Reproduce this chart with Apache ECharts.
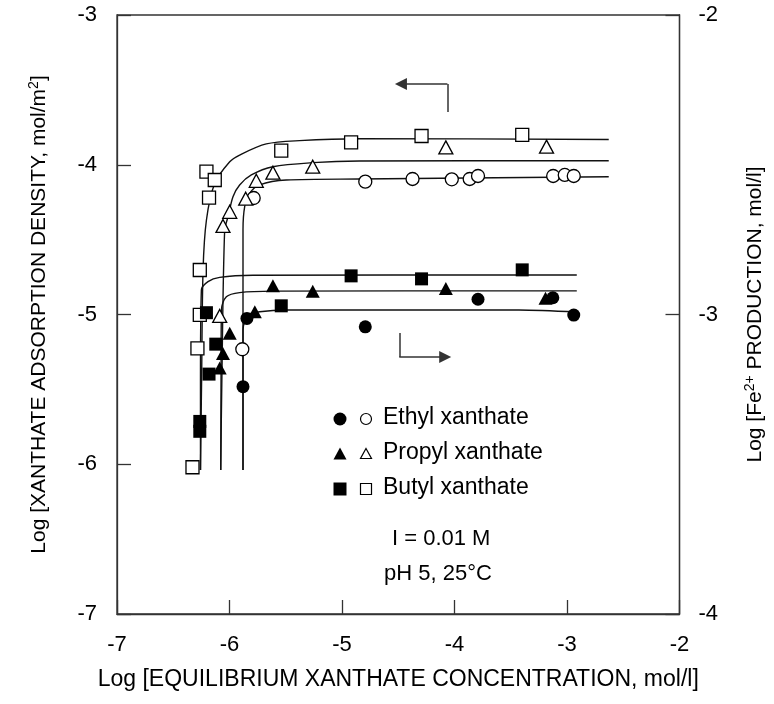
<!DOCTYPE html>
<html><head><meta charset="utf-8">
<script src="https://cdn.jsdelivr.net/npm/echarts@6/dist/echarts.min.js"></script>
<style>html,body{margin:0;padding:0;background:#fff}#c{width:774px;height:704px}</style>
</head><body><div id="c"></div>
<script>
// ---- data (x = log equilibrium xanthate conc.) ----
// open symbols: adsorption density (left axis)
const ethylAds = [[-5.886,-5.232],[-5.785,-4.222],[-4.793,-4.113],[-4.373,-4.095],[-4.024,-4.097],[-3.865,-4.095],[-3.791,-4.075],[-3.123,-4.075],[-3.020,-4.068],[-2.940,-4.075]];
const propylAds = [[-6.087,-5.010],[-6.058,-4.409],[-5.998,-4.314],[-5.856,-4.227],[-5.762,-4.107],[-5.614,-4.053],[-5.260,-4.013],[-4.077,-3.884],[-3.182,-3.879]];
const butylAds = [[-6.205,-4.046],[-6.131,-4.102],[-6.182,-4.220],[-5.540,-3.906],[-4.919,-3.850],[-4.293,-3.808],[-3.398,-3.801],[-6.264,-4.703],[-6.264,-5.003],[-6.285,-5.226],[-6.329,-6.020]];
// filled symbols: Fe2+ production (right axis)
const ethylFe = [[-5.880,-3.241],[-5.845,-3.013],[-4.793,-3.041],[-3.791,-2.949],[-3.126,-2.944],[-2.940,-3.002]];
const propylFe = [[-6.087,-3.179],[-6.058,-3.130],[-5.998,-3.063],[-5.775,-2.991],[-5.614,-2.904],[-5.260,-2.922],[-4.077,-2.913],[-3.191,-2.946]];
const butylFe = [[-6.264,-3.357],[-6.264,-3.390],[-6.182,-3.199],[-6.122,-3.099],[-6.205,-2.994],[-5.540,-2.971],[-4.919,-2.871],[-4.293,-2.881],[-3.398,-2.851]];
// fitted curves
const butylAdsCurve = [[-6.258,-6.038],[-6.248,-5.437],[-6.235,-4.703],[-6.205,-4.369],[-6.131,-4.124],[-5.998,-3.980],[-5.910,-3.935],[-5.673,-3.861],[-5.378,-3.839],[-4.846,-3.826],[-2.629,-3.831]];
const propylAdsCurve = [[-6.078,-6.038],[-6.068,-5.437],[-6.043,-4.436],[-6.013,-4.347],[-5.969,-4.213],[-5.910,-4.135],[-5.806,-4.068],[-5.614,-4.013],[-5.260,-3.986],[-4.846,-3.975],[-2.629,-3.973]];
const ethylAdsCurve = [[-5.880,-6.038],[-5.880,-4.436],[-5.865,-4.280],[-5.821,-4.191],[-5.732,-4.135],[-5.496,-4.102],[-4.846,-4.095],[-2.629,-4.080]];
const butylFeCurve = [[-6.258,-3.519],[-6.258,-3.219],[-6.250,-2.918],[-6.191,-2.890],[-6.087,-2.876],[-5.792,-2.869],[-2.913,-2.868]];
const propylFeCurve = [[-6.078,-3.519],[-6.075,-3.200],[-6.072,-2.985],[-6.028,-2.941],[-5.910,-2.927],[-5.614,-2.922],[-2.913,-2.921]];
const ethylFeCurve = [[-5.880,-3.519],[-5.880,-3.052],[-5.836,-3.002],[-5.732,-2.991],[-5.496,-2.985],[-3.427,-2.985],[-2.913,-2.992]];
// direction arrows (left-axis data units): stem + arrow shaft
const arrowLeftStem = [[-4.063,-3.648],[-4.063,-3.461]];
const arrowLeftShaft = [[-4.063,-3.461],[-4.476,-3.461]];
const arrowRightStem = [[-4.491,-5.124],[-4.491,-5.284]];
const arrowRightShaft = [[-4.491,-5.284],[-4.083,-5.284]];
const xTicks = [-7,-6,-5,-4,-3,-2];

const FONT = 'Liberation Sans, Arial, sans-serif';
const chart = echarts.init(document.getElementById('c'), null, {renderer:'canvas'});

function curve(data, yi){
  return {type:'line', data, yAxisIndex:yi, showSymbol:false, smooth:0.3, z:2,
    lineStyle:{color:'#111', width:1.4}, silent:true};
}
function pts(data, yi, symbol, filled, size){
  return {type:'scatter', data, yAxisIndex:yi, symbol, symbolSize:size, z:5,
    itemStyle:{color: filled ? '#000' : '#fff', borderColor:'#000', borderWidth: filled?0:1.3, opacity:1}};
}
function seg(coords, head){
  return {type:'lines', coordinateSystem:'cartesian2d', z:3,
    symbol: head ? ['none','triangle'] : ['none','none'], symbolSize:[12,12],
    lineStyle:{color:'#333', width:1.5, opacity:1, curveness:0},
    itemStyle:{color:'#000'},
    data:[{coords}]};
}
const axisCommon = {
  axisLine:{show:true, lineStyle:{color:'#333', width:1.3}},
  axisTick:{show:true, inside:true, length:14, lineStyle:{color:'#333', width:1.3}},
  splitLine:{show:false},
  axisLabel:{fontSize:22, fontFamily:FONT, color:'#000'},
  nameTextStyle:{fontSize:21, fontFamily:FONT, color:'#000',
    rich:{sup:{fontSize:14, fontFamily:FONT, color:'#000', padding:[0,0,10,0]}}}
};
const legendRows = [
  {y:419, sym:'circle', label:'Ethyl xanthate'},
  {y:454, sym:'triangle', label:'Propyl xanthate'},
  {y:489, sym:'rect', label:'Butyl xanthate'}
];
const graphics = [];
legendRows.forEach(r=>{
  const mk = (cx, filled, small) => {
    const s = small ? 5.5 : 6.5;
    const style = filled ? {fill:'#000'} : {fill:'#fff', stroke:'#000', lineWidth:1.2};
    if (r.sym==='circle') return {type:'circle', shape:{cx, cy:r.y, r:s}, style};
    if (r.sym==='rect') return {type:'rect', shape:{x:cx-s, y:r.y-s, width:2*s, height:2*s}, style};
    return {type:'polygon', shape:{points:[[cx, r.y-s],[cx+s, r.y+s-1],[cx-s, r.y+s-1]]}, style};
  };
  graphics.push(mk(340, true, false));
  graphics.push(mk(366, false, true));
  graphics.push({type:'text', left:383, top:r.y-13, style:{text:r.label, font:'23px '+FONT, fill:'#000'}});
});
graphics.push({type:'text', left:392, top:528, style:{text:'I = 0.01 M', font:'22px '+FONT, fill:'#000'}});
graphics.push({type:'text', left:384, top:563, style:{text:'pH 5, 25°C', font:'22px '+FONT, fill:'#000'}});

chart.setOption({
  animation:false,
  backgroundColor:'#fff',
  grid:{left:117, right:93, top:15, bottom:90, show:true, borderColor:'#333', borderWidth:1.3, containLabel:false},
  xAxis:Object.assign({}, axisCommon, {type:'value', min:xTicks[0], max:xTicks[xTicks.length-1], interval:1,
    name:'Log [EQUILIBRIUM XANTHATE CONCENTRATION, mol/l]', nameLocation:'middle', nameGap:54,
    nameTextStyle:{fontSize:23, fontFamily:FONT, color:'#000'},
    axisLabel:Object.assign({}, axisCommon.axisLabel, {margin:20})}),
  yAxis:[
    Object.assign({}, axisCommon, {type:'value', position:'left', min:-7, max:-3, interval:1,
      name:'Log [XANTHATE ADSORPTION DENSITY, mol/m{sup|2}]', nameLocation:'middle', nameGap:66, nameRotate:90,
      axisLabel:Object.assign({}, axisCommon.axisLabel, {margin:20})}),
    Object.assign({}, axisCommon, {type:'value', position:'right', min:-4, max:-2, interval:1,
      name:'Log [Fe{sup|2+} PRODUCTION, mol/l]', nameLocation:'middle', nameGap:64, nameRotate:90,
      axisLabel:Object.assign({}, axisCommon.axisLabel, {margin:19})})
  ],
  graphic:graphics,
  series:[
    curve(butylAdsCurve,0), curve(propylAdsCurve,0), curve(ethylAdsCurve,0),
    curve(butylFeCurve,1), curve(propylFeCurve,1), curve(ethylFeCurve,1),
    seg(arrowLeftStem,false), seg(arrowLeftShaft,true), seg(arrowRightStem,false), seg(arrowRightShaft,true),
    pts(ethylAds,0,'circle',false,13), pts(propylAds,0,'triangle',false,[14,13]), pts(butylAds,0,'rect',false,13),
    pts(ethylFe,1,'circle',true,13), pts(propylFe,1,'triangle',true,[14,13]), pts(butylFe,1,'rect',true,13)
  ]
});
</script></body></html>
